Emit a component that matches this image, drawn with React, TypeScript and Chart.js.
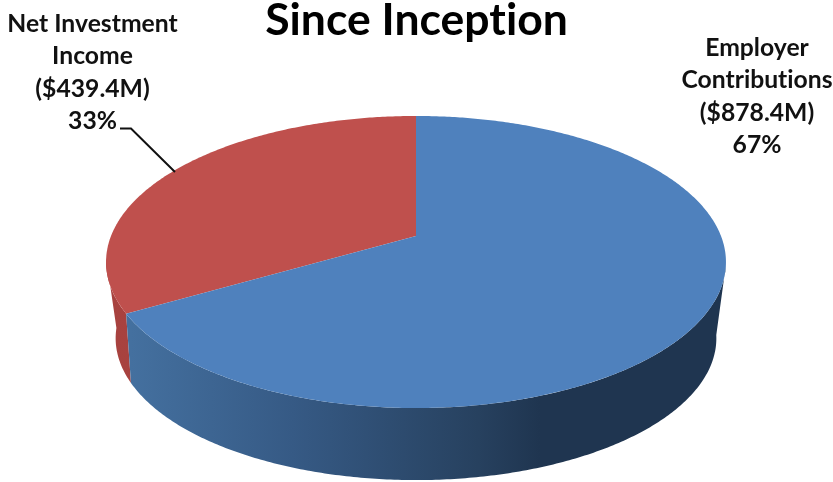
import React, { useEffect, useRef } from "react";
import { Chart, registerables } from "chart.js";

Chart.register(...registerables);

const categories = ["Employer Contributions", "Net Investment Income"];
const amounts = [878.4, 439.4];
const titleText = "Since Inception";
const employerLabel = ["Employer", "Contributions", "($878.4M)", "67%"];
const incomeLabel = ["Net Investment", "Income", "($439.4M)", "33%"];
const topColors = ["#4f81bd", "#bf504d"];
const wallStops: [number, string][][] = [
  [[0.04, "#44709f"], [0.3, "#365a85"], [0.6, "#27415f"], [0.7, "#1f3550"], [1, "#1f3550"]],
  [[0, "#a8423f"], [1, "#9a3e3b"]],
];

const FONT = "Lato, sans-serif";
const topFace = { cx: 416, cy: 236, b: 305, a: 141.4, p: 0.178 };
const bottomFace = { cx: 416, cy: 307, b: 293, a: 135, p: 0.22 };

type Face = typeof topFace;
const project = (f: Face, ang: number): [number, number] => {
  const x = Math.cos(ang);
  const y = Math.sin(ang);
  const d = 1 - f.p * y;
  return [f.cx + (f.b * x) / d, f.cy + (f.a * y) / d];
};

const arcPoints = (f: Face, a0: number, a1: number) => {
  const n = Math.max(2, Math.ceil(Math.abs(a1 - a0) / 0.01));
  const pts: [number, number][] = [];
  for (let i = 0; i <= n; i++) pts.push(project(f, a0 + ((a1 - a0) * i) / n));
  return pts;
};

const FRONT_START = 0.2;
const FRONT_END = 2.99;

const pie3d = {
  id: "pie3d",
  beforeDraw(chart: any) {
    chart.ctx.letterSpacing = "0.01px";
  },
  beforeDatasetDraw(chart: any) {
    const ctx: CanvasRenderingContext2D = chart.ctx;
    const arcs = chart.getDatasetMeta(0).data;
    const order = [1, 0];
    // side walls
    order.forEach((i) => {
      const s = Math.max(arcs[i].startAngle, FRONT_START);
      const e = Math.min(arcs[i].endAngle, FRONT_END);
      if (e <= s) return;
      const top = arcPoints(topFace, s, e);
      const bot = arcPoints(bottomFace, e, s);
      ctx.beginPath();
      [...top, ...bot].forEach(([x, y], k) => (k ? ctx.lineTo(x, y) : ctx.moveTo(x, y)));
      ctx.closePath();
      const g = ctx.createLinearGradient(106, 0, 726, 0);
      wallStops[i].forEach(([o, c]) => g.addColorStop(o, c));
      ctx.fillStyle = g;
      ctx.fill();
    });
    // top faces
    order.forEach((i) => {
      ctx.beginPath();
      ctx.moveTo(topFace.cx, topFace.cy);
      arcPoints(topFace, arcs[i].startAngle, arcs[i].endAngle).forEach(([x, y]) => ctx.lineTo(x, y));
      ctx.closePath();
      ctx.fillStyle = topColors[i];
      ctx.fill();
    });
    return false;
  },
  afterDatasetsDraw(chart: any) {
    const ctx: CanvasRenderingContext2D = chart.ctx;
    ctx.save();
    ctx.fillStyle = "#111";
    ctx.font = `bold 24.7px ${FONT}`;
    ctx.textAlign = "center";
    ctx.textBaseline = "alphabetic";
    employerLabel.forEach((t, i) => ctx.fillText(t, 757, 56 + i * 32.3));
    incomeLabel.forEach((t, i) => ctx.fillText(t, 92.5, 32 + i * 32.3));
    ctx.strokeStyle = "#111";
    ctx.lineWidth = 2;
    ctx.beginPath();
    ctx.moveTo(120, 128.5);
    ctx.lineTo(131, 128.5);
    ctx.lineTo(175, 172);
    ctx.stroke();
    ctx.restore();
  },
};

export default function App() {
  const ref = useRef<HTMLCanvasElement>(null);
  useEffect(() => {
    document.body.style.margin = "0";
    const chart = new Chart(ref.current!, {
      type: "pie",
      data: {
        labels: categories,
        datasets: [{ data: amounts, backgroundColor: topColors, borderWidth: 0 }],
      },
      options: {
        responsive: false,
        animation: false,
        devicePixelRatio: 1,
        layout: { padding: 0 },
        plugins: {
          legend: { display: false },
          tooltip: { enabled: false },
          title: {
            display: true,
            text: titleText,
            color: "#000",
            font: { family: FONT, size: 44.5, weight: "bold" },
            padding: { top: -6, bottom: 0 },
          },
        },
      },
      plugins: [pie3d],
    } as any);
    return () => chart.destroy();
  }, []);
  return (
    <canvas
      ref={ref}
      width={833}
      height={482}
      style={{ display: "block", width: 833, height: 482, filter: "blur(0.5px)" }}
    />
  );
}
